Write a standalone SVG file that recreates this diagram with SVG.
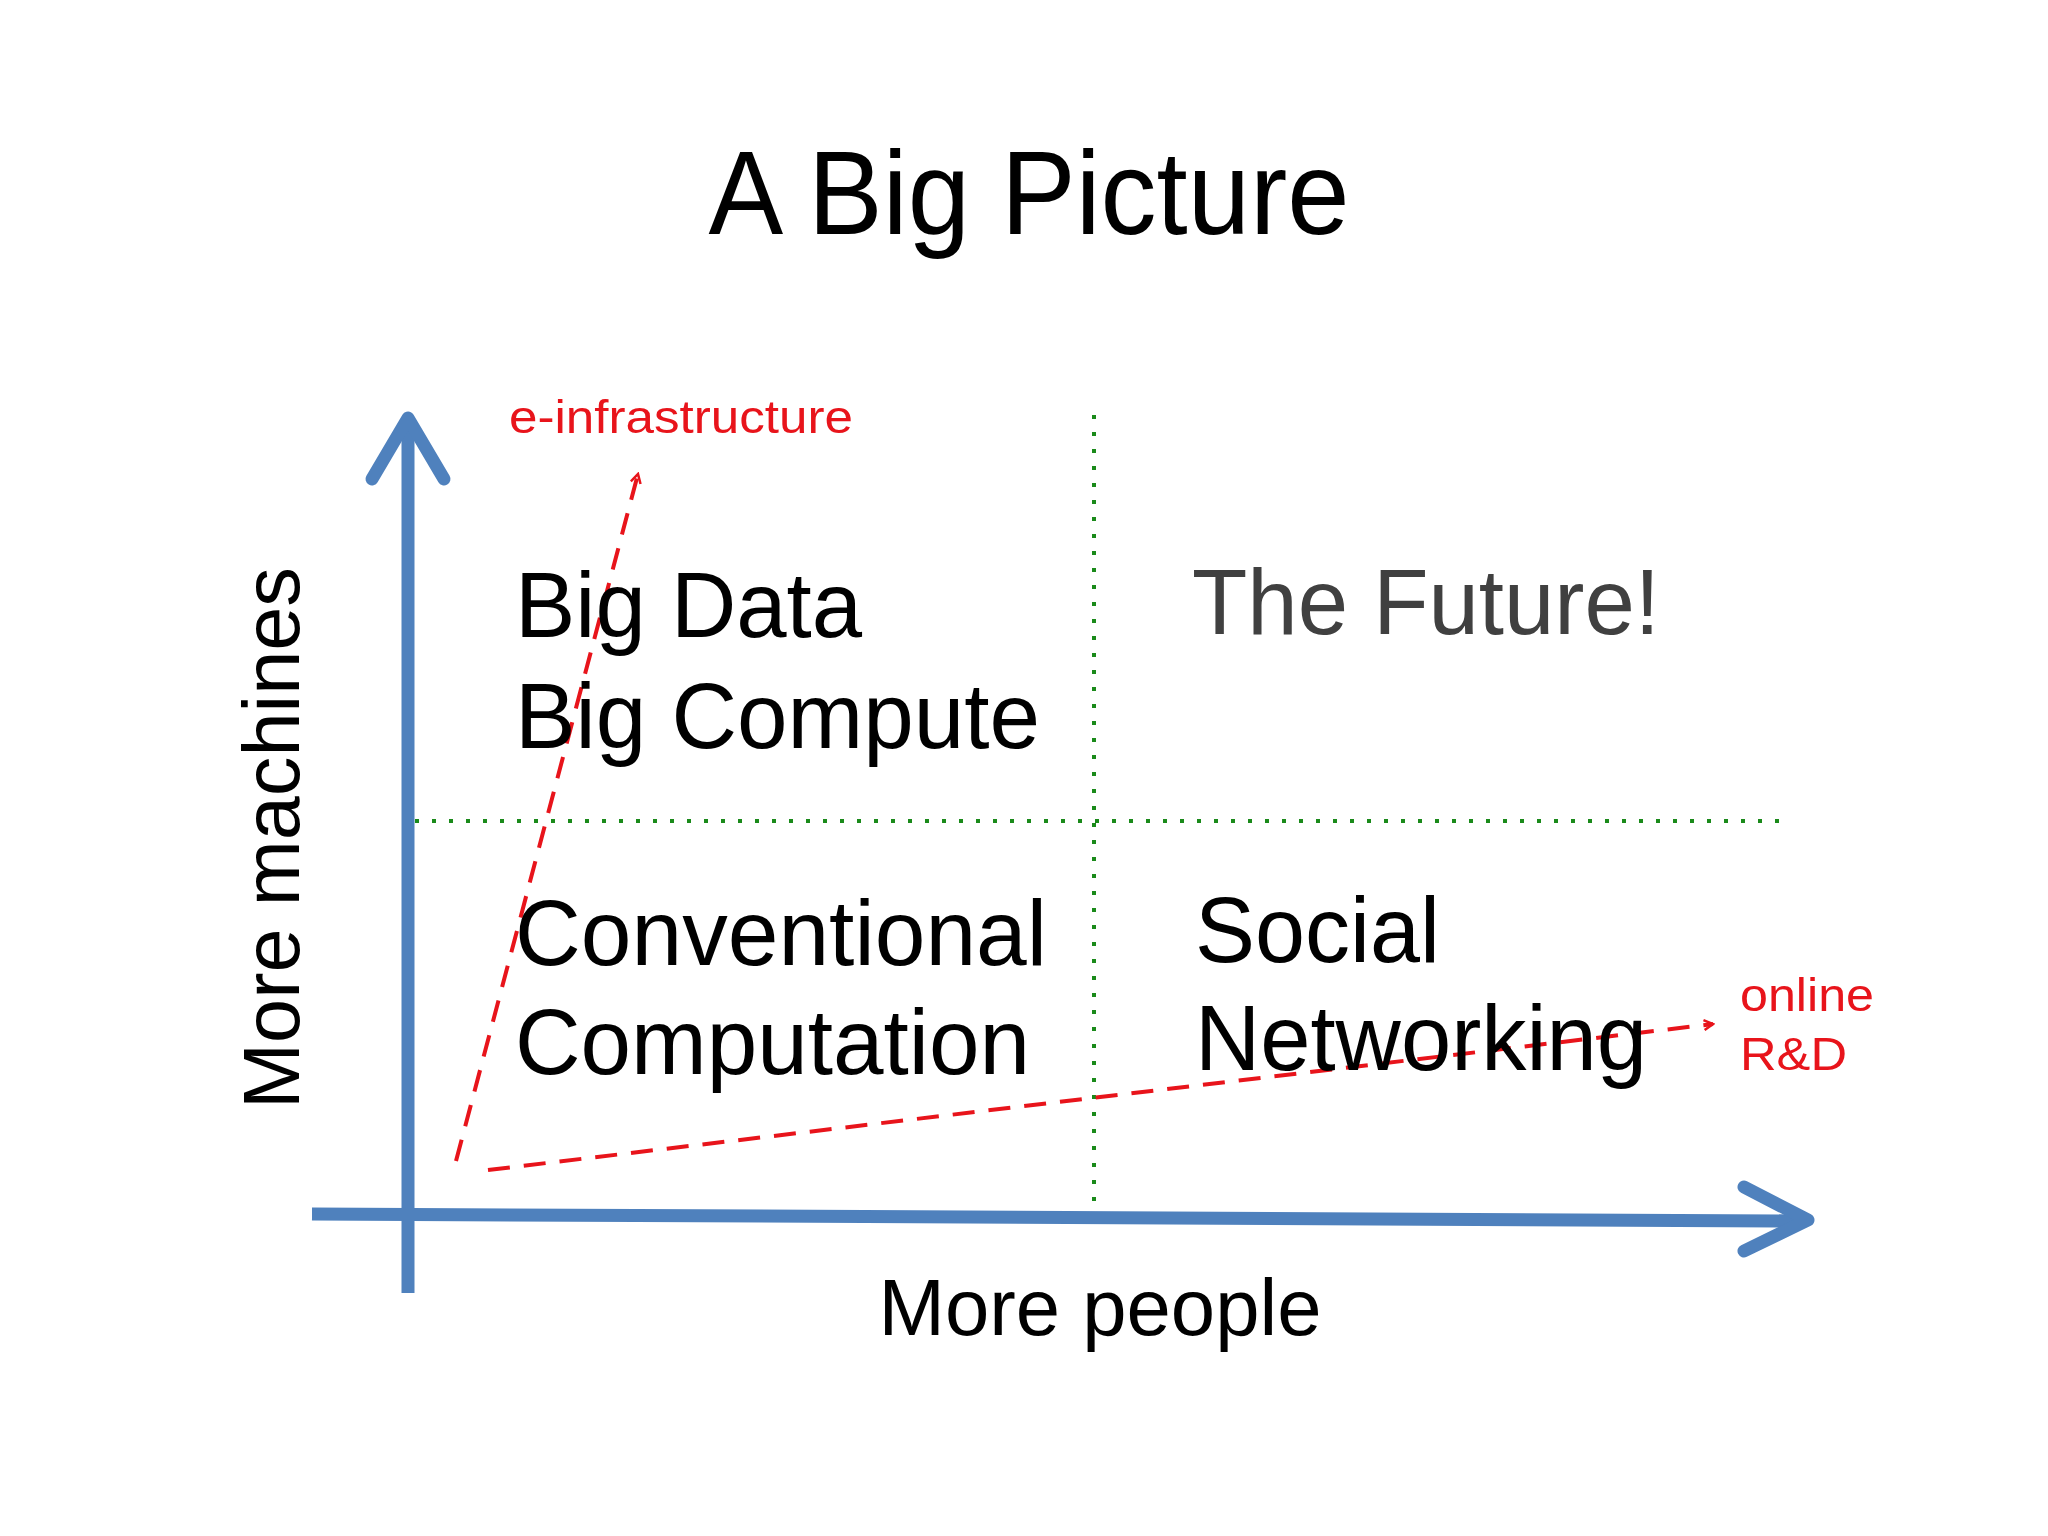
<svg xmlns="http://www.w3.org/2000/svg" width="2048" height="1536" viewBox="0 0 2048 1536">
<style>
.t{font-family:"Liberation Sans",Arial,sans-serif}
.big{font-size:92px;fill:#000}
.red{fill:#e8141b;font-size:46px}
.axis{stroke:#4f81bd;stroke-width:13;fill:none}
.grid{stroke:#1a8a1a;stroke-width:4;stroke-dasharray:4 13;fill:none}
.dash{stroke:#e8141b;stroke-width:4;stroke-dasharray:22 14;fill:none}
</style>
<defs>
<marker id="ra" viewBox="0 0 12 12" refX="10" refY="6" markerWidth="12" markerHeight="12" markerUnits="userSpaceOnUse" orient="auto"><path d="M1,1 L10,6 L1,11" fill="none" stroke="#e8141b" stroke-width="2.5"/></marker>
</defs>
<rect width="2048" height="1536" fill="#fff"/>
<text class="t" x="1029" y="234" text-anchor="middle" font-family="'Open Sans',sans-serif" font-size="118" textLength="641" lengthAdjust="spacingAndGlyphs">A Big Picture</text>
<g id="connectors">
<path class="grid" d="M1094 415 V1201"/>
<path class="grid" d="M415 821 H1792"/>
<path class="axis" d="M408 1293 V418"/>
<path class="axis" d="M372 479 L408 418 L444 479" stroke-linecap="round" stroke-linejoin="round"/>
<path class="axis" d="M312 1214 L1805 1221"/>
<path class="axis" d="M1744 1187 L1808 1220 L1744 1251" stroke-linecap="round" stroke-linejoin="round"/>
<path class="dash" d="M456 1161 L638 474" marker-end="url(#ra)"/>
<path class="dash" d="M488 1170 L1713 1024" marker-end="url(#ra)"/>
</g>
<g id="q1"><text class="t big" x="515" y="637" textLength="347" lengthAdjust="spacingAndGlyphs">Big Data</text><text class="t big" x="515" y="748" textLength="525" lengthAdjust="spacingAndGlyphs">Big Compute</text></g>
<g id="q2"><text class="t big" x="1192" y="634" fill="#404040" style="fill:#404040" textLength="468" lengthAdjust="spacingAndGlyphs">The Future!</text></g>
<g id="q3"><text class="t big" x="515" y="965" textLength="532" lengthAdjust="spacingAndGlyphs">Conventional</text><text class="t big" x="515" y="1074" textLength="515" lengthAdjust="spacingAndGlyphs">Computation</text></g>
<g id="q4"><text class="t big" x="1195" y="962" textLength="245" lengthAdjust="spacingAndGlyphs">Social</text><text class="t big" x="1195" y="1070" textLength="452" lengthAdjust="spacingAndGlyphs">Networking</text></g>
<g id="labels">
<text class="t red" x="509" y="433" textLength="344" lengthAdjust="spacingAndGlyphs">e-infrastructure</text>
<text class="t red" x="1740" y="1011" textLength="134" lengthAdjust="spacingAndGlyphs">online</text>
<text class="t red" x="1740" y="1070" textLength="107" lengthAdjust="spacingAndGlyphs">R&amp;D</text>
<text class="t" x="1100" y="1335" text-anchor="middle" font-size="80" textLength="443" lengthAdjust="spacingAndGlyphs">More people</text>
<text class="t" transform="translate(299 838) rotate(-90)" text-anchor="middle" font-size="80" textLength="542" lengthAdjust="spacingAndGlyphs">More machines</text>
</g>
</svg>
